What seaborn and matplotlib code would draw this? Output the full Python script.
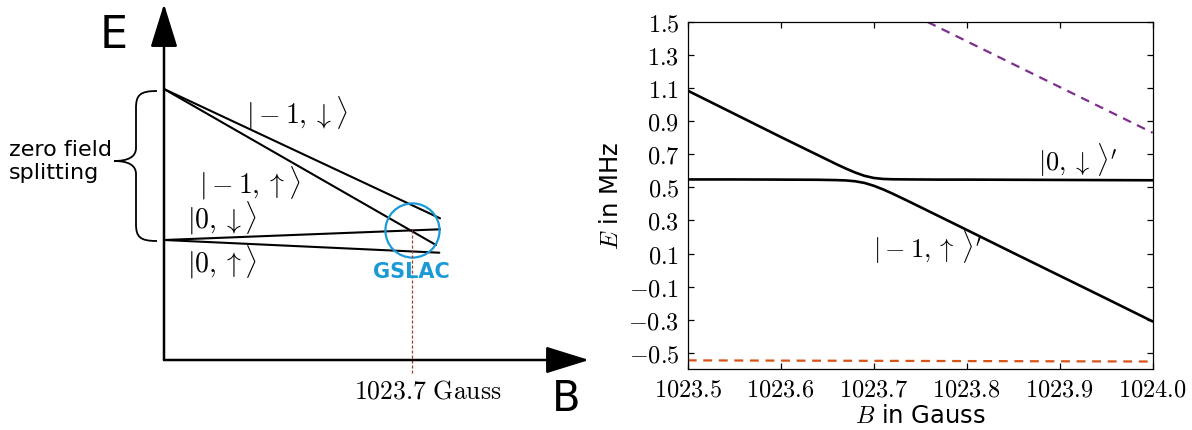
import numpy as np
import pandas as pd
import seaborn as sns
import matplotlib
matplotlib.use("Agg")
import matplotlib.pyplot as plt
from matplotlib.path import Path
from matplotlib.patches import PathPatch

sns.set_style("ticks")
plt.rcParams["font.family"] = ["DejaVu Sans"]
plt.rcParams["mathtext.fontset"] = "cm"
for k in ["text.color", "axes.labelcolor", "xtick.color", "ytick.color",
          "axes.edgecolor"]:
    plt.rcParams[k] = "black"

# ---------------- data: right panel ----------------
B_gauss = [1023.50, 1023.55, 1023.60, 1023.64, 1023.66, 1023.67, 1023.68, 1023.69,
           1023.70, 1023.71, 1023.72, 1023.74, 1023.77, 1023.80, 1023.85, 1023.90,
           1023.95, 1024.00]
E_upper = [1.085, 0.945, 0.805, 0.695, 0.640, 0.614, 0.590, 0.570,
           0.557, 0.551, 0.549, 0.548, 0.547, 0.547, 0.546, 0.545,
           0.544, 0.543]
E_lower = [0.548, 0.548, 0.547, 0.546, 0.544, 0.542, 0.537, 0.527,
           0.510, 0.488, 0.463, 0.409, 0.326, 0.243, 0.104, -0.034,
           -0.172, -0.311]
B_purple = [1023.758, 1024.00]
E_purple = [1.50, 0.83]
B_orange = [1023.50, 1024.00]
E_orange = [-0.546, -0.553]

xticks = [1023.5, 1023.6, 1023.7, 1023.8, 1023.9, 1024.0]
yticks = [-0.5, -0.3, -0.1, 0.1, 0.3, 0.5, 0.7, 0.9, 1.1, 1.3, 1.5]

# ---------------- data: left schematic (arbitrary units) ----------------
level_labels = [r"$|-1,\downarrow\rangle$", r"$|-1,\uparrow\rangle$",
                r"$|0,\downarrow\rangle$", r"$|0,\uparrow\rangle$"]
level_E0 = [271, 271, 120, 120]          # zero-field energies
level_Bend = [1.0, 0.9855, 1.0, 0.9975]  # end of drawn field range
level_Eend = [141.7, 115.0, 130.7, 107.3]
gslac_B, gslac_E = 0.8975, 130.5

# ---------------- figure ----------------
fig = plt.figure(figsize=(11.92, 4.30), dpi=100)

# ---- left schematic ----
axL = fig.add_axes([0, 0, 600 / 1192, 1])
axL.set_xlim(-164 / 276, 436 / 276)
axL.set_ylim(-70, 360)
axL.axis("off")

for e0, b1, e1 in zip(level_E0, level_Bend, level_Eend):
    sns.lineplot(x=[0.0, b1], y=[e0, e1], ax=axL, color="k", lw=1.5, sort=False)

label_pos = [(0.480, 247), (0.310, 177), (0.212, 142), (0.212, 98)]
for lab, (bx, ey) in zip(level_labels, label_pos):
    axL.text(bx, ey, lab, fontsize=20, ha="center", va="center")

# axes arrows
arrow_kw = dict(arrowstyle="-|>,head_length=1.35,head_width=0.42", lw=1.8,
                color="k", mutation_scale=20, shrinkA=0, shrinkB=0)
axL.annotate("", xy=(0, 356), xytext=(0, 0), arrowprops=arrow_kw)
axL.annotate("", xy=(1.540, 0), xytext=(0, 0), arrowprops=arrow_kw)
axL.text(-0.181, 324, "E", fontsize=32, ha="center", va="center")
axL.text(1.4565, -39, "B", fontsize=30, ha="center", va="center")

# GSLAC circle + dashed marker
axL.plot([gslac_B], [gslac_E], marker="o", ms=39, mfc="none",
         mec="#1b9ad6", mew=1.6)
axL.text(gslac_B, 88.3, "GSLAC", color="#1b9ad6", fontsize=15,
         fontweight="bold", ha="center", va="center")
axL.plot([gslac_B, gslac_B], [gslac_E, -12.7], color="#a0402a", lw=0.9,
         ls=(0, (2.5, 1.5)))
axL.text(0.9565, -31.7, r"$1023.7\ \mathrm{Gauss}$", fontsize=18.5,
         ha="center", va="center")

# brace for zero-field splitting
def px(x, y):
    return ((x - 164) / 276, 360 - y)

brace_pts = [(157, 91), (140, 91), (136, 95), (136, 108), (136, 148),
             (136, 157), (128, 161), (114, 161),
             (128, 161), (136, 165), (136, 174), (136, 224),
             (136, 237), (140, 241), (157, 241)]
codes = [Path.MOVETO, Path.CURVE4, Path.CURVE4, Path.CURVE4, Path.LINETO,
         Path.CURVE4, Path.CURVE4, Path.CURVE4,
         Path.CURVE4, Path.CURVE4, Path.CURVE4, Path.LINETO,
         Path.CURVE4, Path.CURVE4, Path.CURVE4]
brace = Path([px(*p) for p in brace_pts], codes)
axL.add_patch(PathPatch(brace, fc="none", ec="k", lw=1.3))
axL.text(-0.5616, 198.5, "zero field\nsplitting", fontsize=16, ha="left",
         va="center", linespacing=1.15)

# ---- right panel ----
axR = fig.add_axes([687.7 / 1192, (430 - 369.3) / 430, 465 / 1192, 347.3 / 430])
sns.lineplot(x=B_gauss, y=E_upper, ax=axR, color="k", lw=1.9, sort=False)
sns.lineplot(x=B_gauss, y=E_lower, ax=axR, color="k", lw=1.9, sort=False)
sns.lineplot(x=B_purple, y=E_purple, ax=axR, color="#7E2F8E", lw=1.6,
             linestyle=(0, (4, 3)))
sns.lineplot(x=B_orange, y=E_orange, ax=axR, color="#D95319", lw=1.6,
             linestyle=(0, (4, 3)))

axR.set_xlim(1023.5, 1024.0)
axR.set_ylim(-0.6, 1.5)
axR.set_xticks(xticks)
axR.set_xticklabels([f"${v:.1f}$" for v in xticks])
axR.set_yticks(yticks)
axR.set_yticklabels([f"${v:.1f}$" for v in yticks])
axR.tick_params(direction="in", length=4, width=0.9, top=True, right=True,
                labelsize=17.5, pad=6, colors="black")
for s in axR.spines.values():
    s.set_visible(True)
    s.set_linewidth(0.9)
    s.set_color("black")
axR.set_xlabel(r"$B$ in Gauss", fontsize=17.5, labelpad=2, color="black")
axR.set_ylabel(r"$E$ in MHz", fontsize=17.5, labelpad=4, color="black")

axR.text(1023.919, 0.666, r"$|0,\downarrow\,\rangle'$", fontsize=19,
         ha="center", va="center")
axR.text(1023.758, 0.14, r"$|-1,\uparrow\,\rangle'$", fontsize=19,
         ha="center", va="center")

fig.savefig("out.png", dpi=100)
